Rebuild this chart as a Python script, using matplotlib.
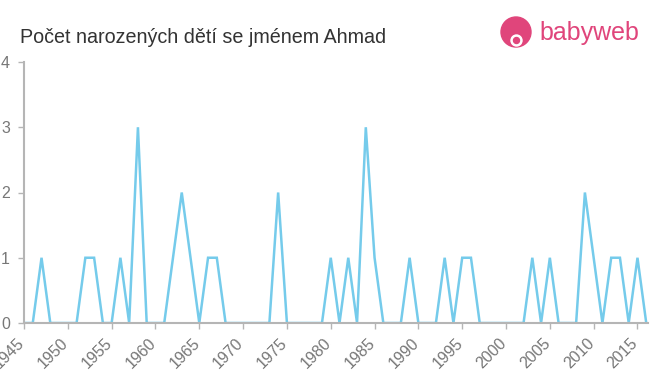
import matplotlib
matplotlib.use("Agg")
import matplotlib.pyplot as plt
from matplotlib.patches import Circle
from matplotlib.transforms import ScaledTranslation

plt.rcParams["font.family"] = ["Liberation Sans", "DejaVu Sans"]

# data
years = list(range(1945, 2017))
counts = [0, 0, 1, 0, 0, 0, 0, 1, 1, 0,   # 1945-1954
          0, 1, 0, 3, 0, 0, 0, 1, 2, 1,   # 1955-1964
          0, 1, 1, 0, 0, 0, 0, 0, 0, 2,   # 1965-1974
          0, 0, 0, 0, 0, 1, 0, 1, 0, 3,   # 1975-1984
          1, 0, 0, 0, 1, 0, 0, 0, 1, 0,   # 1985-1994
          1, 1, 0, 0, 0, 0, 0, 0, 1, 0,   # 1995-2004
          1, 0, 0, 0, 2, 1, 0, 1, 1, 0,   # 2005-2014
          1, 0]                           # 2015-2016
xticks = list(range(1945, 2020, 5))
yticks = [0, 1, 2, 3, 4]

fig = plt.figure(figsize=(6.6, 3.75), dpi=100)
ax = fig.add_axes([24/660, 1-323/375, (648-24)/660, (323-62)/375])

ax.plot(years, counts, color="#75cbeb", lw=1.8, solid_joinstyle="miter")

ax.set_xlim(1945, 2016.2)
ax.set_ylim(0, 4)
ax.set_xticks(xticks)
ax.set_xticklabels([str(y) for y in xticks], rotation=45, ha="right", va="center",
                   rotation_mode="anchor", color="#777777", fontsize=11.5)
ax.set_yticks(yticks)
ax.set_yticklabels([str(y) for y in yticks], color="#777777", fontsize=11.5)
for s in ["top", "right"]:
    ax.spines[s].set_visible(False)
for s in ["left", "bottom"]:
    ax.spines[s].set_color("#b5b5b5")
    ax.spines[s].set_linewidth(1.5)
ax.tick_params(axis="both", color="#b5b5b5", length=4, width=1)
ax.tick_params(axis="x", pad=9)
ax.tick_params(axis="y", pad=6)
shift = ScaledTranslation(-2/100, 0, fig.dpi_scale_trans)
for lab in ax.get_xticklabels():
    lab.set_transform(lab.get_transform() + shift)

# title
fig.text(20/660, 1-43/375, "Počet narozených dětí se jménem Ahmad",
         fontsize=14.2, color="#333333", va="baseline", ha="left")

# logo
pink = "#e0457b"
tr = fig.dpi_scale_trans
fig.patches.append(Circle((5.16, 3.43), 0.15, transform=tr, color=pink))
fig.patches.append(Circle((5.165, 3.345), 0.055, transform=tr, color="white"))
fig.patches.append(Circle((5.165, 3.345), 0.03, transform=tr, color=pink))
fig.text(539/660, 1-33/375, "babyweb", fontsize=18, color=pink,
         va="center", ha="left")

fig.savefig("out.png", dpi=100)
